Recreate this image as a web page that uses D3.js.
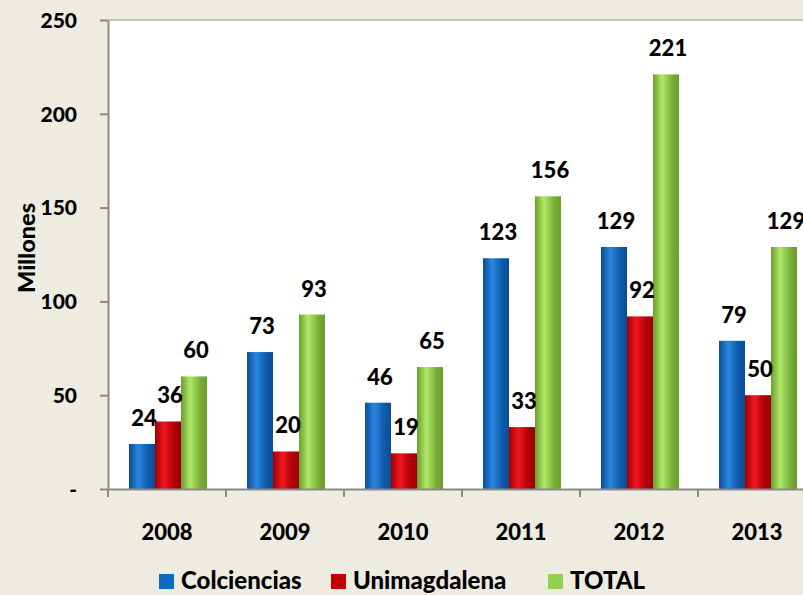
<!DOCTYPE html>
<html><head><meta charset="utf-8">
<script src="https://cdn.jsdelivr.net/npm/d3@7"></script>
<style>body{margin:0;background:#eeebe1;}svg{display:block;}</style>
</head><body><svg id="c" width="803" height="595"></svg>
<script>
const years = ["2008","2009","2010","2011","2012","2013"];
const seriesNames = ["Colciencias","Unimagdalena","TOTAL"];
const colciencias = [24,73,46,123,129,79];
const unimagdalena = [36,20,19,33,92,50];
const total = [60,93,65,156,221,129];
const yTicks = [0,50,100,150,200,250];
const yTickLabels = ["-","50","100","150","200","250"];

(function(){
const seriesValues = [colciencias, unimagdalena, total];
const colors = [
  ["#0b4c94","#2a86e0","#0e5aa8"],
  ["#9c0000","#f01820","#b00008"],
  ["#6b9e2c","#b0e868","#78ad36"]
];
const legendColors = ["#0a6ac4","#c00000","#92d050"];
const svg = d3.select("#c");
const font = "Lato, 'Open Sans', sans-serif";
const pl = 108, pt = 20, pb = 489;
const x = d3.scaleBand().domain(years).range([pl, pl + 708]).paddingInner(0).paddingOuter(0);
const y = d3.scaleLinear().domain([0,250]).range([pb, pt]);
const xs = d3.scaleBand().domain(seriesNames).range([21, 21+78]);

const defs = svg.append("defs");
colors.forEach((c,i)=>{
  const g = defs.append("linearGradient").attr("id","g"+i).attr("x1","0").attr("x2","1").attr("y1","0").attr("y2","0");
  g.append("stop").attr("offset","0").attr("stop-color",c[0]);
  g.append("stop").attr("offset","0.35").attr("stop-color",c[1]);
  g.append("stop").attr("offset","0.75").attr("stop-color",c[2]);
  g.append("stop").attr("offset","1").attr("stop-color",c[0]);
});

svg.append("rect").attr("x",pl).attr("y",pt).attr("width",803-pl).attr("height",pb-pt).attr("fill","#ffffff");
svg.append("line").attr("x1",pl).attr("x2",803).attr("y1",pt).attr("y2",pt).attr("stroke","#b8b6ad").attr("stroke-width",1.5);

seriesValues.forEach((vals,si)=>{
  svg.append("g").selectAll("rect").data(vals).join("rect")
    .attr("x",(d,i)=>x(years[i])+xs(seriesNames[si]))
    .attr("y",d=>y(d))
    .attr("width",xs.bandwidth())
    .attr("height",d=>pb-y(d))
    .attr("fill","url(#g"+si+")");
});
seriesValues.forEach((vals,si)=>{
  svg.append("g").selectAll("text").data(vals).join("text")
    .attr("x",(d,i)=>x(years[i])+xs(seriesNames[si])+xs.bandwidth()/2+2)
    .attr("y",d=>y(d)-18)
    .attr("text-anchor","middle")
    .attr("font-family",font).attr("font-weight","900").attr("font-size",22)
    .attr("fill","#000").text(d=>d);
});

const ya = d3.axisLeft(y).tickValues(yTicks).tickFormat((d,i)=>yTickLabels[i]).tickSize(8).tickSizeOuter(0);
const yg = svg.append("g").attr("transform",`translate(${pl},0)`).call(ya);
yg.select(".domain").attr("stroke","#8a8a8a").attr("stroke-width",2);
yg.selectAll(".tick line").attr("stroke","#8a8a8a").attr("stroke-width",2);
yg.selectAll(".tick text").attr("x",-31).attr("font-family",font).attr("font-weight","900").attr("font-size",21).attr("fill","#000").attr("dy","0.35em");

const xa = d3.axisBottom(x).tickSize(0).tickSizeOuter(0);
const xg = svg.append("g").attr("transform",`translate(0,${pb})`).call(xa);
xg.select(".domain").attr("stroke","#8a8a8a").attr("stroke-width",2);
xg.selectAll(".tick text").attr("y",35).attr("font-family",font).attr("font-weight","900").attr("font-size",22).attr("fill","#000");
svg.append("g").selectAll("line").data(years).join("line")
  .attr("x1",d=>x(d)).attr("x2",d=>x(d)).attr("y1",pb).attr("y2",pb+8)
  .attr("stroke","#8a8a8a").attr("stroke-width",2);

svg.append("text").attr("transform","translate(35,248) rotate(-90)").attr("text-anchor","middle")
  .attr("font-family",font).attr("font-weight","900").attr("font-size",23.5).text("Millones");

const legX = [159, 331, 548];
const lg = svg.append("g");
seriesNames.forEach((n,i)=>{
  lg.append("rect").attr("x",legX[i]).attr("y",574).attr("width",15).attr("height",15).attr("fill",legendColors[i]);
  lg.append("text").attr("x",legX[i]+22).attr("y",589).attr("font-family",font).attr("font-weight","900").attr("font-size",24).text(n);
});
})();
</script></body></html>
